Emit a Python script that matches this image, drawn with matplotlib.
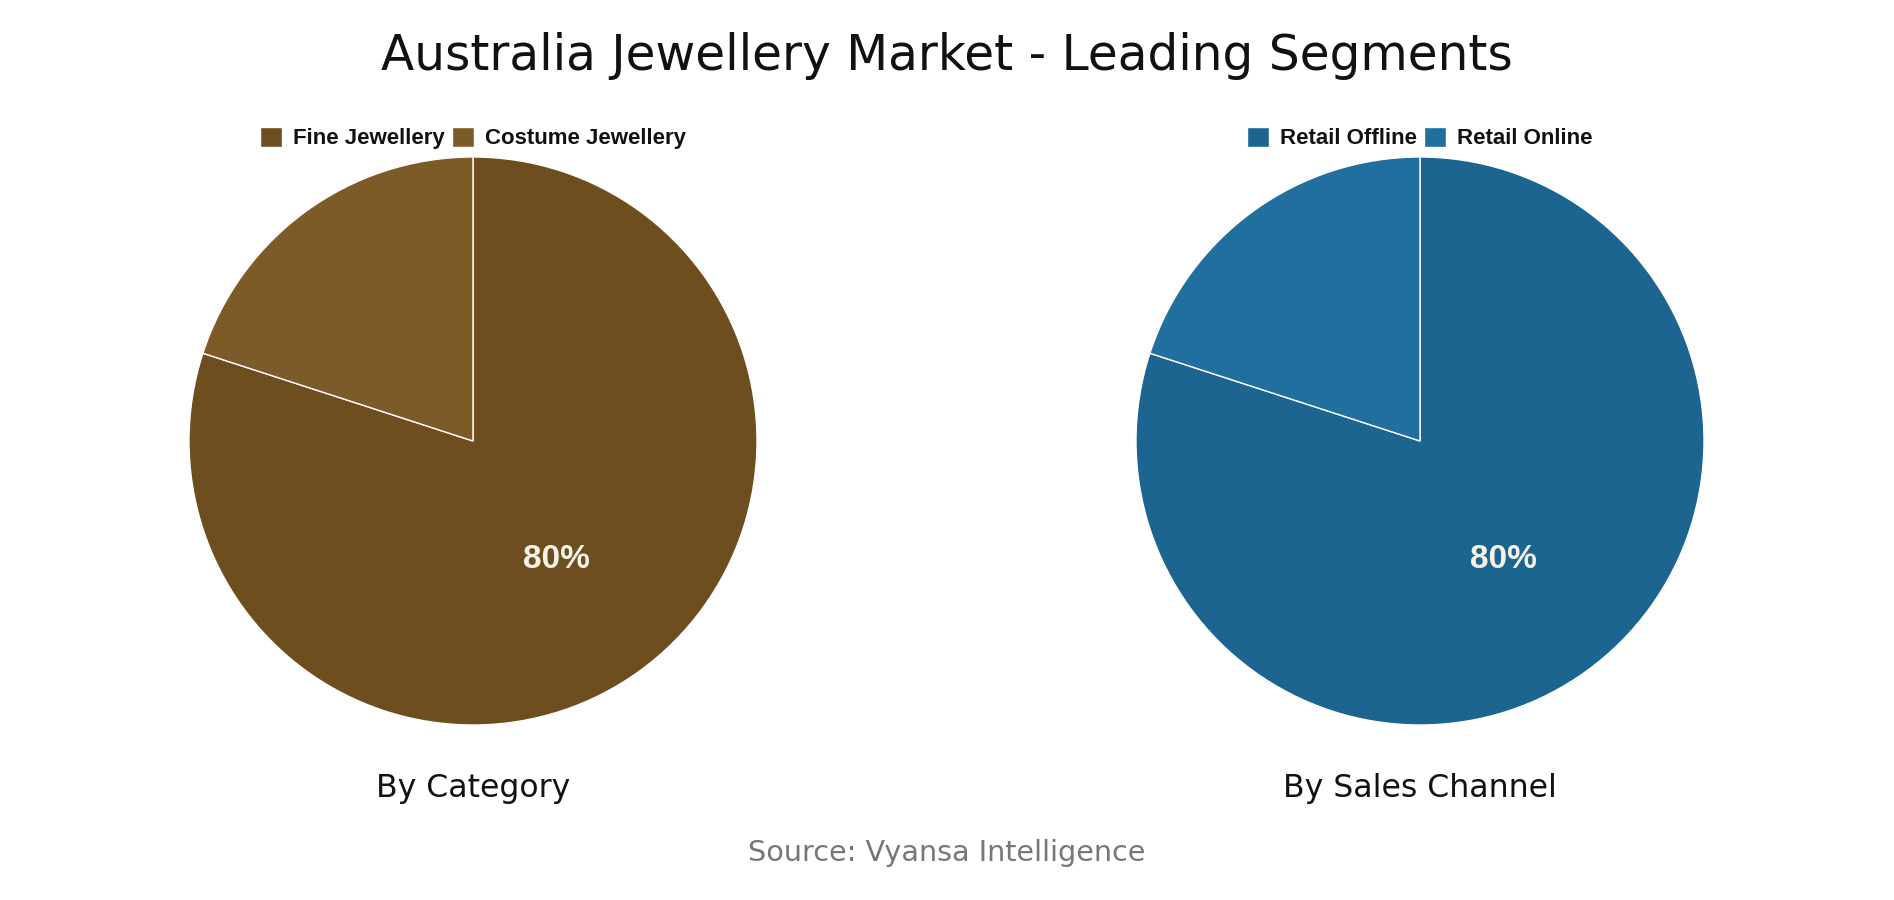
import matplotlib
matplotlib.use("Agg")
import matplotlib.pyplot as plt
import numpy as np

# chart data
title = "Australia Jewellery Market - Leading Segments"
source = "Source: Vyansa Intelligence"

cat_labels = ["Fine Jewellery", "Costume Jewellery"]
cat_values = [80, 20]
cat_colors = ["#6E4E1E", "#7C5B29"]

chan_labels = ["Retail Offline", "Retail Online"]
chan_values = [80, 20]
chan_colors = ["#1B6590", "#216F9F"]

subtitles = ["By Category", "By Sales Channel"]

W, H = 1894, 900
fig = plt.figure(figsize=(W / 100, H / 100), dpi=100)
fig.patch.set_facecolor("white")

title_font = ["DejaVu Sans"]
bold_font = ["Liberation Sans", "DejaVu Sans"]


def draw_pie(cx, labels, values, colors, subtitle):
    """
    Draw one pie centred at pixel x = cx.
    """
    r = 284
    cy = 441
    ax = fig.add_axes([(cx - r) / W, 1 - (cy + r) / H, 2 * r / W, 2 * r / H])
    wedges, _ = ax.pie(values, colors=colors, startangle=90, counterclock=False,
                       wedgeprops=dict(edgecolor="white", linewidth=1))
    ax.set_xlim(-1, 1)
    ax.set_ylim(-1, 1)
    ax.set_aspect("equal")
    ax.axis("off")

    # label only the big slice
    total = sum(values)
    start = 90
    for v in values:
        mid = start - 360 * v / total / 2
        start -= 360 * v / total
        if v / total >= 0.5:
            a = np.deg2rad(mid)
            ax.text(0.5 * np.cos(a), 0.5 * np.sin(a) - 0.012, f"{v}%",
                    ha="center", va="center", color="#F7F2EA", fontsize=24,
                    fontweight="bold", family=bold_font)

    leg = ax.legend(wedges, labels, loc="center",
                    bbox_to_anchor=(0.5, 1 + (cy - r - 138) / (2 * r)),
                    ncol=2, frameon=False, handlelength=1.0, handleheight=1.0,
                    handletextpad=0.5, columnspacing=0.3,
                    prop=dict(family=bold_font, weight="bold", size=16))
    for t in leg.get_texts():
        t.set_color("#111111")

    fig.text(cx / W, 1 - 789 / H, subtitle, ha="center", va="center",
             fontsize=22.7, family=title_font, color="#111111")


draw_pie(473, cat_labels, cat_values, cat_colors, subtitles[0])
draw_pie(1420, chan_labels, chan_values, chan_colors, subtitles[1])

fig.text(947 / W, 1 - 56 / H, title, ha="center", va="center", fontsize=35,
         family=title_font, color="#111111")
fig.text(947 / W, 1 - 853 / H, source, ha="center", va="center", fontsize=20.6,
         family=title_font, color="#777777")

plt.savefig("out.png", dpi=100)
